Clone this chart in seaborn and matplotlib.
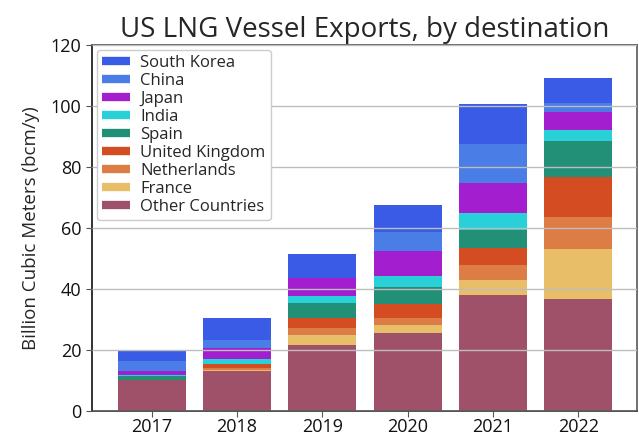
import numpy as np
import pandas as pd
import seaborn as sns
import matplotlib.pyplot as plt
from matplotlib.lines import Line2D

years = ["2017", "2018", "2019", "2020", "2021", "2022"]

# stacking order: bottom -> top
other = [10.1, 13.1, 21.7, 25.6, 38.0, 36.7]
france = [0.0, 0.3, 3.2, 2.6, 4.9, 16.4]
netherlands = [0.0, 0.5, 2.3, 2.3, 4.9, 10.4]
uk = [0.0, 1.6, 3.3, 4.6, 5.5, 13.3]
spain = [1.2, 0.0, 4.9, 5.5, 6.0, 11.9]
india = [0.6, 1.6, 2.3, 3.6, 5.5, 3.6]
japan = [1.3, 3.6, 5.8, 8.2, 10.1, 5.8]
china = [3.0, 2.6, 0.0, 6.3, 12.8, 2.9]
south_korea = [3.6, 7.2, 7.8, 8.7, 13.1, 8.3]

series = [
    ("Other Countries", other, "#9e5168"),
    ("France", france, "#e9be69"),
    ("Netherlands", netherlands, "#dc7d46"),
    ("United Kingdom", uk, "#d44c22"),
    ("Spain", spain, "#229077"),
    ("India", india, "#29d0d8"),
    ("Japan", japan, "#a21ecf"),
    ("China", china, "#4a7de6"),
    ("South Korea", south_korea, "#3a5be6"),
]

sns.set_style("white")
plt.rcParams['font.family'] = ['Open Sans', 'DejaVu Sans']

fig, ax = plt.subplots(figsize=(6.39, 4.38), dpi=100)

bottom = np.zeros(len(years))
for name, vals, col in series:
    df = pd.DataFrame({"year": years, "value": vals})
    ax.bar(df["year"], df["value"], bottom=bottom, color=col, width=0.8,
           linewidth=0, label=name, zorder=1)
    bottom += np.array(vals)

ax.set_xlim(-0.7, 5.69)
ax.set_ylim(0, 120)
ax.set_yticks(range(0, 121, 20))
ax.yaxis.grid(True, color="#bdbdbd", linewidth=1.0, zorder=3)
ax.set_axisbelow(False)
for sp in ax.spines.values():
    sp.set_color("#666666")
    sp.set_linewidth(1.3)
ax.spines["left"].set_color("#222222")
ax.spines["bottom"].set_color("#444444")
ax.tick_params(axis="both", labelsize=13, length=4, color="#555555", direction="out",
               bottom=True, left=True, colors="#555555", labelcolor="#111111")
ax.tick_params(axis="x", pad=1.5)

ax.set_title("US LNG Vessel Exports, by destination", fontsize=20)
ax.set_ylabel("Billion Cubic Meters (bcm/y)", fontsize=13.5, labelpad=8)

handles = [Line2D([0], [0], color=col, lw=6, solid_capstyle="butt") for _, _, col in series[::-1]]
labels = [name for name, _, _ in series[::-1]]
leg = ax.legend(handles, labels, loc="upper left", fontsize=12, handlelength=1.7,
                labelspacing=0.12, borderpad=0.3, handletextpad=0.6, framealpha=1,
                edgecolor="#cccccc", fancybox=True, borderaxespad=0.3)
leg.set_zorder(5)

fig.subplots_adjust(left=0.144, right=0.997, top=0.897, bottom=0.062)
fig.savefig("out.png", dpi=100)
